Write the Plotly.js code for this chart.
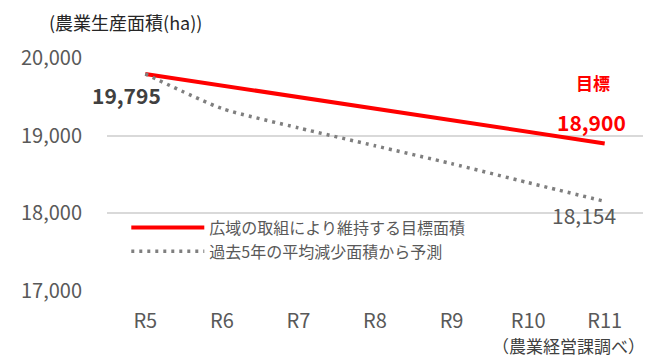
<!DOCTYPE html>
<html>
<head>
<meta charset="utf-8">
<script src="https://cdn.plot.ly/plotly-3.0.1.min.js"></script>
<style>html,body{margin:0;padding:0;background:#fff;}#chart{width:654px;height:360px;}</style>
</head>
<body>
<div id="chart"></div>
<script>
const categories = ["R5", "R6", "R7", "R8", "R9", "R10", "R11"];
const targetValues = [19795, 19646, 19498, 19349, 19200, 19051, 18900];
const forecastValues = [19795, 19350, 19100, 18870, 18640, 18395, 18154];
const seriesNames = ["広域の取組により維持する目標面積", "過去5年の平均減少面積から予測"];
const yTicks = [17000, 18000, 19000, 20000];
const yTickLabels = ["17,000", "18,000", "19,000", "20,000"];

const FONT = '"Noto Sans CJK JP", "Noto Sans", sans-serif';

const traces = [
  {
    x: categories, y: targetValues, name: seriesNames[0], type: 'scatter', mode: 'lines',
    line: {color: '#ff0000', width: 4}
  },
  {
    x: categories, y: forecastValues, name: seriesNames[1], type: 'scatter', mode: 'lines',
    line: {color: '#7f7f7f', width: 3.5, dash: '3px,5px', shape: 'spline', smoothing: 0.6}
  }
];

const layout = {
  width: 654, height: 360,
  margin: {l: 107, r: 11, t: 58, b: 69},
  paper_bgcolor: '#ffffff', plot_bgcolor: '#ffffff',
  font: {family: FONT, color: '#595959'},
  showlegend: true,
  legend: {
    x: 0.036, y: 0.345, xanchor: 'left', yanchor: 'top',
    bgcolor: 'rgba(0,0,0,0)', font: {size: 16, color: '#595959', family: FONT},
    itemwidth: 73, tracegroupgap: 0
  },
  xaxis: {
    type: 'category', range: [-0.5, 6.5], autorange: false,
    showgrid: false, zeroline: false, showline: false,
    tickfont: {size: 20, color: '#595959', family: FONT},
    ticks: '', ticklabelstandoff: 16, fixedrange: true
  },
  yaxis: {
    range: [17000, 20000], autorange: false, tickvals: yTicks, ticktext: yTickLabels,
    showgrid: true, gridcolor: '#d9d9d9', gridwidth: 2, zeroline: false, showline: false,
    tickfont: {size: 20, color: '#595959', family: FONT},
    ticks: '', ticklabelstandoff: 24, fixedrange: true
  },
  annotations: [
    {xref: 'paper', yref: 'paper', x: -0.112, y: 1.155, xanchor: 'left', yanchor: 'middle',
     text: '(農業生産面積(ha))', showarrow: false, font: {size: 18, color: '#262626', family: FONT}},
    {xref: 'paper', yref: 'paper', x: 1.0075, y: -0.232, xanchor: 'right', yanchor: 'middle',
     text: '（農業経営課調べ）', showarrow: false, font: {size: 17, color: '#404040', family: FONT}},
    {xref: 'x', yref: 'y', x: categories[0], y: targetValues[0], xanchor: 'right', yanchor: 'middle',
     xshift: 18, yshift: -21, text: '<b>19,795</b>', showarrow: false, font: {size: 21, color: '#404040', family: FONT}},
    {xref: 'x', yref: 'y', x: categories[6], y: targetValues[6], xanchor: 'center', yanchor: 'middle',
     xshift: -13, yshift: 21, text: '<b>18,900</b>', showarrow: false, font: {size: 21, color: '#ff0000', family: FONT}},
    {xref: 'x', yref: 'y', x: categories[6], y: targetValues[6], xanchor: 'center', yanchor: 'middle',
     xshift: -12, yshift: 61, text: '<b>目標</b>', showarrow: false, font: {size: 17, color: '#ff0000', family: FONT}},
    {xref: 'x', yref: 'y', x: categories[6], y: forecastValues[6], xanchor: 'center', yanchor: 'middle',
     xshift: -21, yshift: -14, text: '18,154', showarrow: false, font: {size: 21, color: '#595959', family: FONT}}
  ]
};

Plotly.newPlot('chart', traces, layout, {displayModeBar: false, staticPlot: true});
</script>
</body>
</html>
